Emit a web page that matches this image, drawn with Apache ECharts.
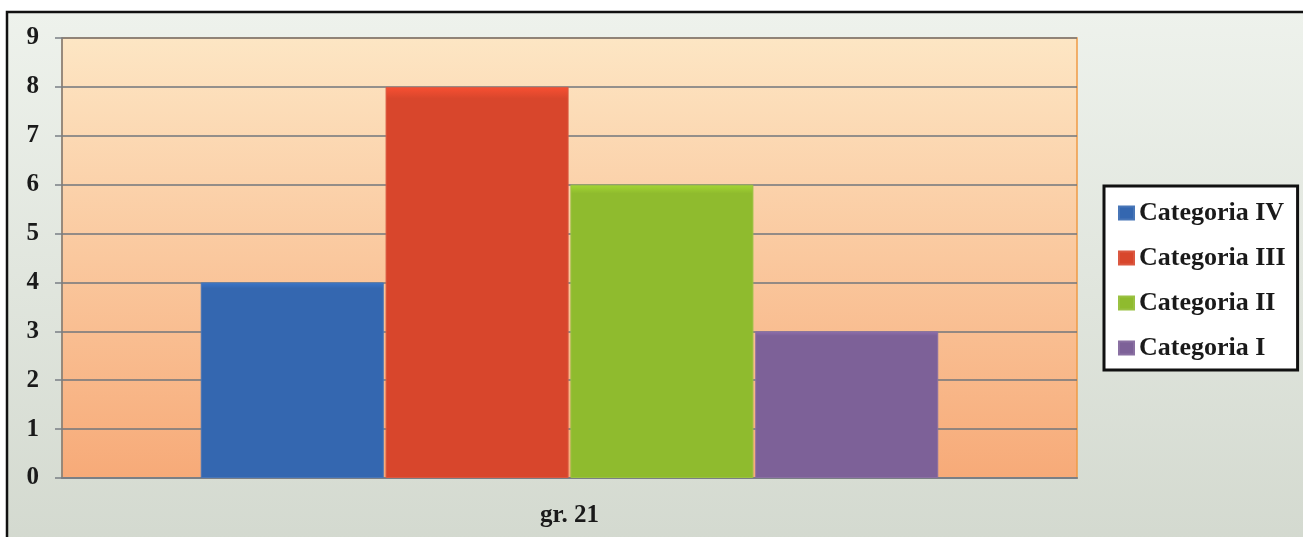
<!DOCTYPE html>
<html>
<head>
<meta charset="utf-8">
<script src="https://cdn.jsdelivr.net/npm/echarts@6/dist/echarts.min.js"></script>
<style>
  html, body { margin: 0; padding: 0; background: #ffffff; }
  #chart { width: 1303px; height: 537px; }
</style>
</head>
<body>
<div id="chart"></div>
<script>
// data
const groups = ['gr. 21']
const seriesNames = ['Categoria IV', 'Categoria III', 'Categoria II', 'Categoria I']
const seriesValues = [[4], [8], [6], [3]]
const yTicks = [0, 9, 1] // min, max, step

const colors = ['#3467b0', '#d8462c', '#8fbb2e', '#7d6198']
const font = '"Liberation Serif", "DejaVu Serif", serif'

const chart = echarts.init(document.getElementById('chart'))

const options = {
  animation: false,
  backgroundColor: '#ffffff',
  graphic: [
    {
      type: 'rect',
      z: -10,
      shape: { x: 7, y: 12, width: 1310, height: 540 },
      style: {
        fill: new echarts.graphic.LinearGradient(0, 0, 0, 1, [
          { offset: 0, color: '#eef2ec' },
          { offset: 1, color: '#d3d9cf' }
        ]),
        stroke: '#111111',
        lineWidth: 2.5
      }
    }
  ],
  grid: {
    left: 62,
    right: 226,
    top: 38,
    bottom: 59,
    show: true,
    backgroundColor: new echarts.graphic.LinearGradient(0, 0, 0, 1, [
      { offset: 0, color: '#fde6c4' },
      { offset: 1, color: '#f7aa78' }
    ]),
    borderColor: '#f09a45',
    borderWidth: 1.5
  },
  legend: {
    orient: 'vertical',
    left: 1104,
    top: 186,
    padding: [14, 12, 9, 14],
    itemGap: 19,
    itemWidth: 15,
    itemHeight: 13,
    icon: 'rect',
    backgroundColor: '#ffffff',
    borderColor: '#111111',
    borderWidth: 3,
    data: seriesNames,
    textStyle: {
      fontFamily: font,
      fontWeight: 'bold',
      fontSize: 26,
      lineHeight: 26,
      color: '#1a1a1a'
    }
  },
  xAxis: {
    type: 'category',
    data: groups,
    axisLine: { lineStyle: { color: '#7a7f85', width: 2 } },
    axisTick: { show: false },
    axisLabel: {
      margin: 25,
      fontFamily: font,
      fontWeight: 'bold',
      fontSize: 25,
      color: '#1a1a1a'
    }
  },
  yAxis: {
    type: 'value',
    min: yTicks[0],
    max: yTicks[1],
    interval: yTicks[2],
    axisLine: { show: true, lineStyle: { color: '#7a7f85', width: 1.5 } },
    axisTick: { show: true, length: 7, lineStyle: { color: '#7a7f85', width: 1.5 } },
    splitLine: { lineStyle: { color: '#71767c', width: 1.5 } },
    axisLabel: {
      margin: 23,
      fontFamily: font,
      fontWeight: 'bold',
      fontSize: 25,
      color: '#1a1a1a'
    }
  },
  series: seriesNames.map((name, i) => ({
    name: name,
    type: 'bar',
    data: seriesValues[i],
    barWidth: 183,
    barGap: '1%',
    itemStyle: {
      color: new echarts.graphic.LinearGradient(0, 0, 0, 1, [
        { offset: 0, color: echarts.color.lift(colors[i], -0.15) },
        { offset: 0.03, color: colors[i] },
        { offset: 1, color: colors[i] }
      ]),
      borderColor: echarts.color.lift(colors[i], 0.1),
      borderWidth: 1
    }
  }))
}

chart.setOption(options)
</script>
</body>
</html>
